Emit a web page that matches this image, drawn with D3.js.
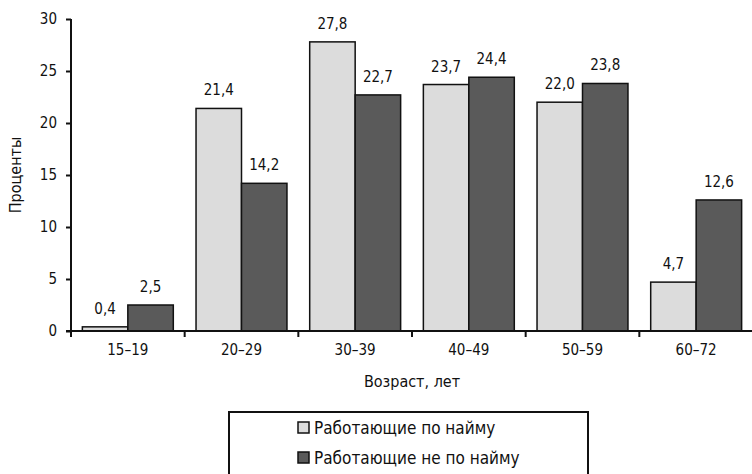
<!DOCTYPE html>
<html><head><meta charset="utf-8">
<script src="https://cdn.jsdelivr.net/npm/d3@7"></script>
<style>
body{margin:0;background:#fff;}
svg text{font-family:"DejaVu Sans Condensed","Liberation Sans Narrow",sans-serif;fill:#111;}
</style></head>
<body><svg id="c" width="752" height="474"></svg>
<script>
const categories = ["15–19","20–29","30–39","40–49","50–59","60–72"];
const seriesNames = ["Работающие по найму","Работающие не по найму"];
const hired = [0.4,21.4,27.8,23.7,22.0,4.7];
const selfEmployed = [2.5,14.2,22.7,24.4,23.8,12.6];
const yTicks = [0,5,10,15,20,25,30];
const colors = ["#dcdcdc","#5a5a5a"];

const svg = d3.select("#c");
const x = d3.scaleBand().domain(categories).range([71,753]).paddingInner(0.2).paddingOuter(0.1);
const x0 = d3.scaleBand().domain(categories).range([71,753]);
const y = d3.scaleLinear().domain([0,30]).range([331,19]);
const xs = d3.scaleBand().domain([0,1]).range([0,x.bandwidth()]);

const data = categories.map((c,i)=>({c, v:[hired[i],selfEmployed[i]]}));
const g = svg.append("g");
data.forEach(d=>{
  d.v.forEach((v,j)=>{
    const bx = x(d.c)+xs(j);
    g.append("rect").attr("x",bx).attr("y",y(v)).attr("width",xs.bandwidth()).attr("height",y(0)-y(v))
      .attr("fill",colors[j]).attr("stroke","#111").attr("stroke-width",1.5);
    g.append("text").attr("x",bx+xs.bandwidth()/2).attr("y",y(v)-13).attr("text-anchor","middle")
      .attr("font-size",15).text(v.toFixed(1).replace(".",","));
  });
});

// y axis
const ya = svg.append("g").attr("transform","translate(71,0)")
  .call(d3.axisLeft(y).tickValues(yTicks).tickSize(5).tickPadding(9).tickFormat(d3.format("d")));
ya.select(".domain").attr("stroke","#111").attr("stroke-width",2).attr("d","M0,19V331");
ya.selectAll(".tick line").attr("stroke","#111").attr("stroke-width",2);
ya.selectAll("text").attr("font-size",15);

// x axis
const xa = svg.append("g").attr("transform","translate(0,331)")
  .call(d3.axisBottom(x0).tickSize(0).tickPadding(13));
xa.select(".domain").attr("stroke","#111").attr("stroke-width",2).attr("d","M66,0H753");
xa.selectAll("text").attr("font-size",15);
xa.selectAll(".tk").data(categories).enter().append("line")
  .attr("x1",d=>x0(d)).attr("x2",d=>x0(d)).attr("y1",0).attr("y2",6)
  .attr("stroke","#111").attr("stroke-width",2);

svg.append("text").attr("x",412).attr("y",387).attr("text-anchor","middle").attr("font-size",16).text("Возраст, лет");
svg.append("text").attr("transform","translate(21,175) rotate(-90)").attr("text-anchor","middle").attr("font-size",16).text("Проценты");

// legend
const lg = svg.append("g");
lg.append("path").attr("d","M229,476V412H588V476").attr("fill","none").attr("stroke","#111").attr("stroke-width",2);
seriesNames.forEach((n,i)=>{
  const yy = 428 + i*30;
  lg.append("rect").attr("x",298).attr("y",yy-6).attr("width",11).attr("height",11)
    .attr("fill",colors[i]).attr("stroke","#111").attr("stroke-width",1.5);
  lg.append("text").attr("x",314).attr("y",yy+6).attr("font-size",17).text(n);
});
</script></body></html>
